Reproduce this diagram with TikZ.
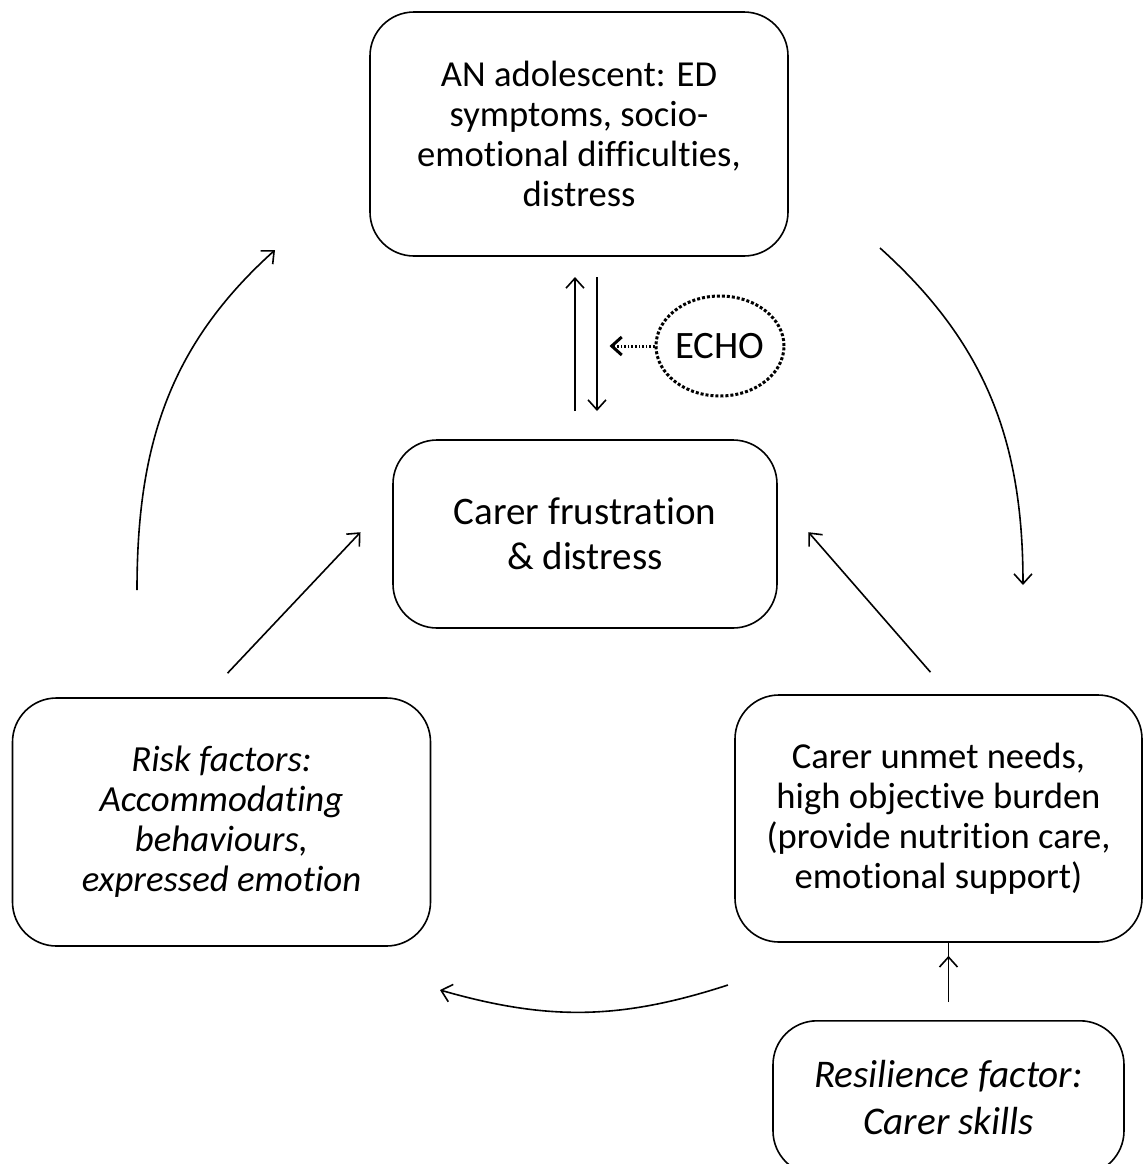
\documentclass[tikz,border=0pt]{standalone}
\usepackage{fontspec}
\setmainfont[Ligatures=NoCommon]{Carlito}
\usetikzlibrary{arrows.meta,shapes.geometric}

\begin{document}
\begin{tikzpicture}[x=0.5pt, y=-0.5pt,
    box/.style={draw, rounded corners=22pt, line width=0.8pt, align=center, inner sep=0pt},
    arr/.style={-{Straight Barb[length=5pt,width=9pt]}, line width=0.8pt},
    txt/.style={font=\fontsize{18.3}{20}\selectfont}]
    \useasboundingbox (0,0) rectangle (1145,1164);

    % the boxes
    \node [box, txt, minimum width=209pt, minimum height=122pt] (adol) at (579,134)
        {AN adolescent: ED\\symptoms, socio-\\emotional difficulties,\\distress};
    \node [box, minimum width=192pt, minimum height=94pt, font=\fontsize{19.5}{22.5}\selectfont] (carer) at (585,534)
        {Carer frustration\\\& distress};
    \node [box, minimum width=209pt, minimum height=124pt, font=\fontsize{18.4}{20}\selectfont\itshape] (risk) at (221.5,822)
        {Risk factors:\\Accommodating\\behaviours,\\expressed emotion};
    \node [box, txt, minimum width=203.5pt, minimum height=123.5pt] (needs) at (938.5,818.5)
        {Carer unmet needs,\\high objective burden\\(provide nutrition care,\\emotional support)};
    \node [box, minimum width=175.5pt, minimum height=77pt, anchor=north, font=\fontsize{19.6}{23.5}\selectfont\itshape] (skills) at (948.5,1020)
        {Resilience factor:\\Carer skills};
    \node [draw, ellipse, densely dotted, line width=1.5pt, inner sep=0pt, minimum width=64pt, minimum height=50pt,
        font=\fontsize{19.4}{20}\selectfont] (echo) at (720,346) {ECHO};

    % free ends of the arrows
    \coordinate (a1) at (880,248);
    \coordinate (a2) at (1023,585);
    \coordinate (b1) at (728,985);
    \coordinate (b2) at (440,990);
    \coordinate (c1) at (137,590);
    \coordinate (c2) at (275,250);
    \coordinate (up1) at (575,411);
    \coordinate (up2) at (575,277);
    \coordinate (dn1) at (597,277);
    \coordinate (dn2) at (597,411);

    % the cycle
    \draw [arr] (a1) to [out=-42, in=90] (a2);
    \draw [arr] (b1) to [bend left=17] (b2);
    \draw [arr] (c1) to [out=90, in=222] (c2);

    % into the carer box
    \draw [arr] (risk.north) ++(6,-24) coordinate (r1) -- +(133,-141);
    \draw [arr] (needs.north) ++(-8,-22) coordinate (n1) -- +(-122,-140);
    \draw [arr] (skills.north) ++(0,-18) coordinate (s1) -- (s1 |- needs.south) ++(0,13);

    % between adolescent and carer
    \draw [arr] (up1) -- (up2);
    \draw [arr] (dn1) -- (dn2);
    \draw [arr, densely dotted, line width=1.5pt] (echo.west) -- +(-45,0);
\end{tikzpicture}
\end{document}
